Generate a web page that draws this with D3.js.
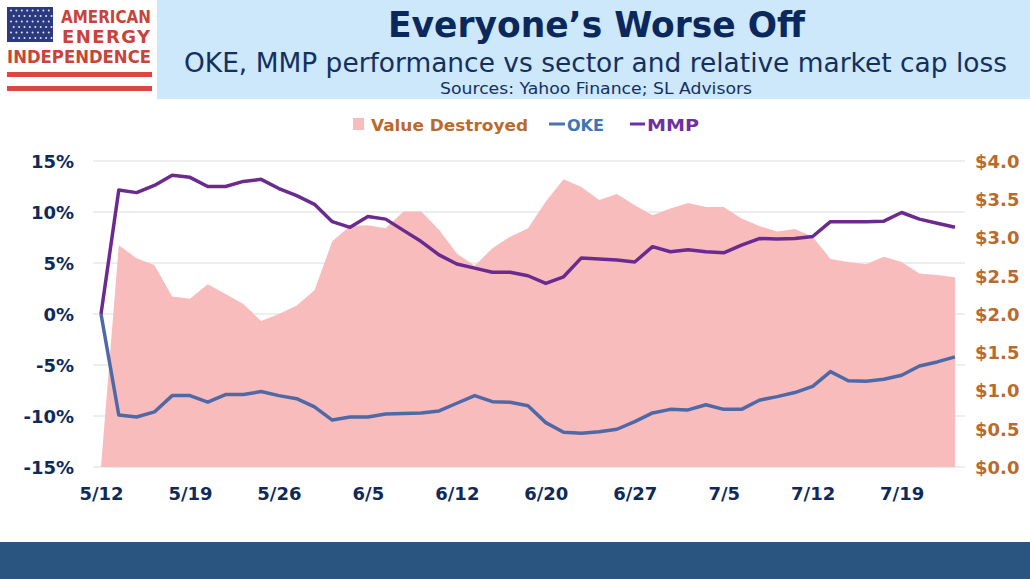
<!DOCTYPE html>
<html lang="en">
<head>
    <meta charset="UTF-8">
    <script src="https://d3js.org/d3.v7.min.js"></script>
    <title>Everyone's Worse Off</title>
    <style>
        body { margin:0; background:#fff; }
        svg text { font-family: "DejaVu Sans", Verdana, sans-serif; }
    </style>
</head>
<body>
    <script>

        // x axis labels, one every 5 trading days (49 points in total)
        var tickLabels = ["5/12","5/19","5/26","6/5","6/12","6/20","6/27","7/5","7/12","7/19"];

        // Value destroyed, $bn (right axis)
        var valueDestroyed = [0.0,2.90,2.73,2.64,2.23,2.20,2.39,2.26,2.13,1.91,2.00,2.11,2.31,2.95,3.15,3.16,
                              3.12,3.34,3.34,3.10,2.79,2.63,2.86,3.01,3.12,3.47,3.76,3.66,3.49,3.57,3.42,3.29,
                              3.38,3.45,3.40,3.40,3.25,3.15,3.08,3.11,3.01,2.72,2.68,2.65,2.75,2.68,2.53,2.51,2.48];

        // OKE relative performance, %
        var oke = [0,-9.9,-10.1,-9.6,-8.0,-8.0,-8.65,-7.9,-7.9,-7.6,-8.0,-8.3,-9.1,-10.4,-10.1,-10.1,
                   -9.8,-9.75,-9.7,-9.5,-8.75,-8.0,-8.6,-8.65,-9.0,-10.65,-11.6,-11.7,-11.55,-11.3,-10.55,-9.7,
                   -9.35,-9.4,-8.9,-9.35,-9.35,-8.45,-8.1,-7.7,-7.1,-5.65,-6.55,-6.6,-6.4,-6.0,-5.1,-4.7,-4.2];

        // MMP relative performance, %
        var mmp = [0,12.15,11.9,12.6,13.6,13.4,12.5,12.5,13.0,13.2,12.3,11.6,10.75,9.05,8.5,9.55,
                   9.3,8.2,7.1,5.8,4.9,4.5,4.1,4.1,3.75,3.0,3.65,5.5,5.4,5.3,5.1,6.6,
                   6.1,6.3,6.1,6.0,6.75,7.4,7.35,7.4,7.6,9.05,9.05,9.05,9.1,9.95,9.3,8.9,8.5];

        var leftTicks = [-15,-10,-5,0,5,10,15];
        var rightTicks = [0,0.5,1,1.5,2,2.5,3,3.5,4];

        var navy = "#0f2a5a", brown = "#b96a2c";

        var svg = d3.select("body").append("svg").attr("width",1030).attr("height",579);

        // header band
        svg.append("rect").attr("x",157).attr("y",0).attr("width",873).attr("height",99).attr("fill","#cde7fb");

        // logo
        var logo = svg.append("g");
        logo.append("rect").attr("x",7).attr("y",7).attr("width",46).attr("height",35).attr("fill","#2b3a7e");
        for (var r = 0; r < 6; r++) {
            for (var c = 0; c < 8; c++) {
                logo.append("circle").attr("cx",11+c*5.4+(r%2)*2.7).attr("cy",10.5+r*5.5).attr("r",1).attr("fill","#dfe4f2");
            }
        }
        logo.append("text").attr("x",61).attr("y",23).attr("font-size",18).attr("font-weight","bold")
            .attr("fill","#c9433b").attr("textLength",90).attr("lengthAdjust","spacingAndGlyphs").text("AMERICAN");
        logo.append("text").attr("x",62).attr("y",43).attr("font-size",18).attr("font-weight","bold")
            .attr("fill","#c9433b").attr("textLength",88).attr("lengthAdjust","spacing").text("ENERGY");
        logo.append("text").attr("x",7).attr("y",63).attr("font-size",17).attr("font-weight","bold")
            .attr("fill","#c9433b").attr("textLength",144).attr("lengthAdjust","spacingAndGlyphs").text("INDEPENDENCE");
        logo.append("rect").attr("x",7).attr("y",72).attr("width",145).attr("height",5).attr("fill","#d9473f");
        logo.append("rect").attr("x",7).attr("y",86).attr("width",145).attr("height",5).attr("fill","#d9473f");

        // titles
        svg.append("text").attr("x",388).attr("y",37).attr("font-size",36).attr("font-weight","bold")
            .attr("fill","#0b285c").attr("textLength",417).attr("lengthAdjust","spacingAndGlyphs")
            .text("Everyone\u2019s Worse Off");
        svg.append("text").attr("x",184).attr("y",72).attr("font-size",26)
            .attr("fill","#14305f").attr("textLength",823).attr("lengthAdjust","spacingAndGlyphs")
            .text("OKE, MMP performance vs sector and relative market cap loss");
        svg.append("text").attr("x",440).attr("y",94).attr("font-size",16)
            .attr("fill","#14305f").attr("textLength",312).attr("lengthAdjust","spacingAndGlyphs")
            .text("Sources: Yahoo Finance; SL Advisors");

        // scales
        var x = d3.scaleLinear().domain([0, valueDestroyed.length-1]).range([101, 955]);
        var yL = d3.scaleLinear().domain([-15,15]).range([467,161]);
        var yR = d3.scaleLinear().domain([0,4]).range([467,161]);

        // gridlines
        svg.append("g").selectAll("line").data(leftTicks).join("line")
            .attr("x1",93).attr("x2",965)
            .attr("y1",d=>yL(d)).attr("y2",d=>yL(d))
            .attr("stroke","#dcdcdc").attr("stroke-width",1);

        // area
        var area = d3.area().x((d,i)=>x(i)).y0(yR(0)).y1(d=>yR(d));
        svg.append("path").datum(valueDestroyed).attr("d",area).attr("fill","#f9bcbd");

        // lines
        var line = d3.line().x((d,i)=>x(i)).y(d=>yL(d));
        svg.append("path").datum(oke).attr("d",line).attr("fill","none")
            .attr("stroke","#4f68a6").attr("stroke-width",3.5).attr("stroke-linejoin","round");
        svg.append("path").datum(mmp).attr("d",line).attr("fill","none")
            .attr("stroke","#6b2b8e").attr("stroke-width",3.5).attr("stroke-linejoin","round");

        // left axis
        var axL = svg.append("g").attr("transform","translate(74,0)")
            .call(d3.axisLeft(yL).tickValues(leftTicks).tickSize(0).tickPadding(0).tickFormat(d=>d+"%"));
        axL.select(".domain").remove();
        axL.selectAll("text").attr("font-family","DejaVu Sans").attr("font-size",18).attr("font-weight","bold")
            .attr("fill",navy).attr("dy","0.36em");

        // right axis
        var axR = svg.append("g").attr("transform","translate(975,0)")
            .call(d3.axisRight(yR).tickValues(rightTicks).tickSize(0).tickPadding(0).tickFormat(d=>"$"+d.toFixed(1)));
        axR.select(".domain").remove();
        axR.selectAll("text").attr("font-family","DejaVu Sans").attr("font-size",18).attr("font-weight","bold")
            .attr("fill",brown).attr("dy","0.36em");

        // bottom axis
        var axB = svg.append("g").attr("transform","translate(0,486)")
            .call(d3.axisBottom(x).tickValues(tickLabels.map((d,i)=>i*5)).tickSize(0).tickPadding(0)
                .tickFormat((d,i)=>tickLabels[i]));
        axB.select(".domain").remove();
        axB.selectAll("text").attr("font-family","DejaVu Sans").attr("font-size",18).attr("font-weight","bold")
            .attr("fill",navy).attr("dy","0.75em");

        // legend
        var lg = svg.append("g").attr("font-weight","bold").attr("font-size",16);
        lg.append("rect").attr("x",353).attr("y",118).attr("width",11).attr("height",12).attr("fill","#f9bcbd");
        lg.append("text").attr("x",371).attr("y",131).attr("fill",brown)
            .attr("textLength",157).attr("lengthAdjust","spacingAndGlyphs").text("Value Destroyed");
        lg.append("line").attr("x1",549).attr("x2",565).attr("y1",124).attr("y2",124)
            .attr("stroke","#4a74b0").attr("stroke-width",3);
        lg.append("text").attr("x",567).attr("y",131).attr("fill","#3c76b4")
            .attr("textLength",37).attr("lengthAdjust","spacingAndGlyphs").text("OKE");
        lg.append("line").attr("x1",630).attr("x2",645).attr("y1",124).attr("y2",124)
            .attr("stroke","#7030a0").attr("stroke-width",3);
        lg.append("text").attr("x",647).attr("y",131).attr("fill","#7030a0")
            .attr("textLength",52).attr("lengthAdjust","spacingAndGlyphs").text("MMP");

        // footer band
        svg.append("rect").attr("x",0).attr("y",542).attr("width",1030).attr("height",37).attr("fill","#2a5581");

    </script>
</body>
</html>
